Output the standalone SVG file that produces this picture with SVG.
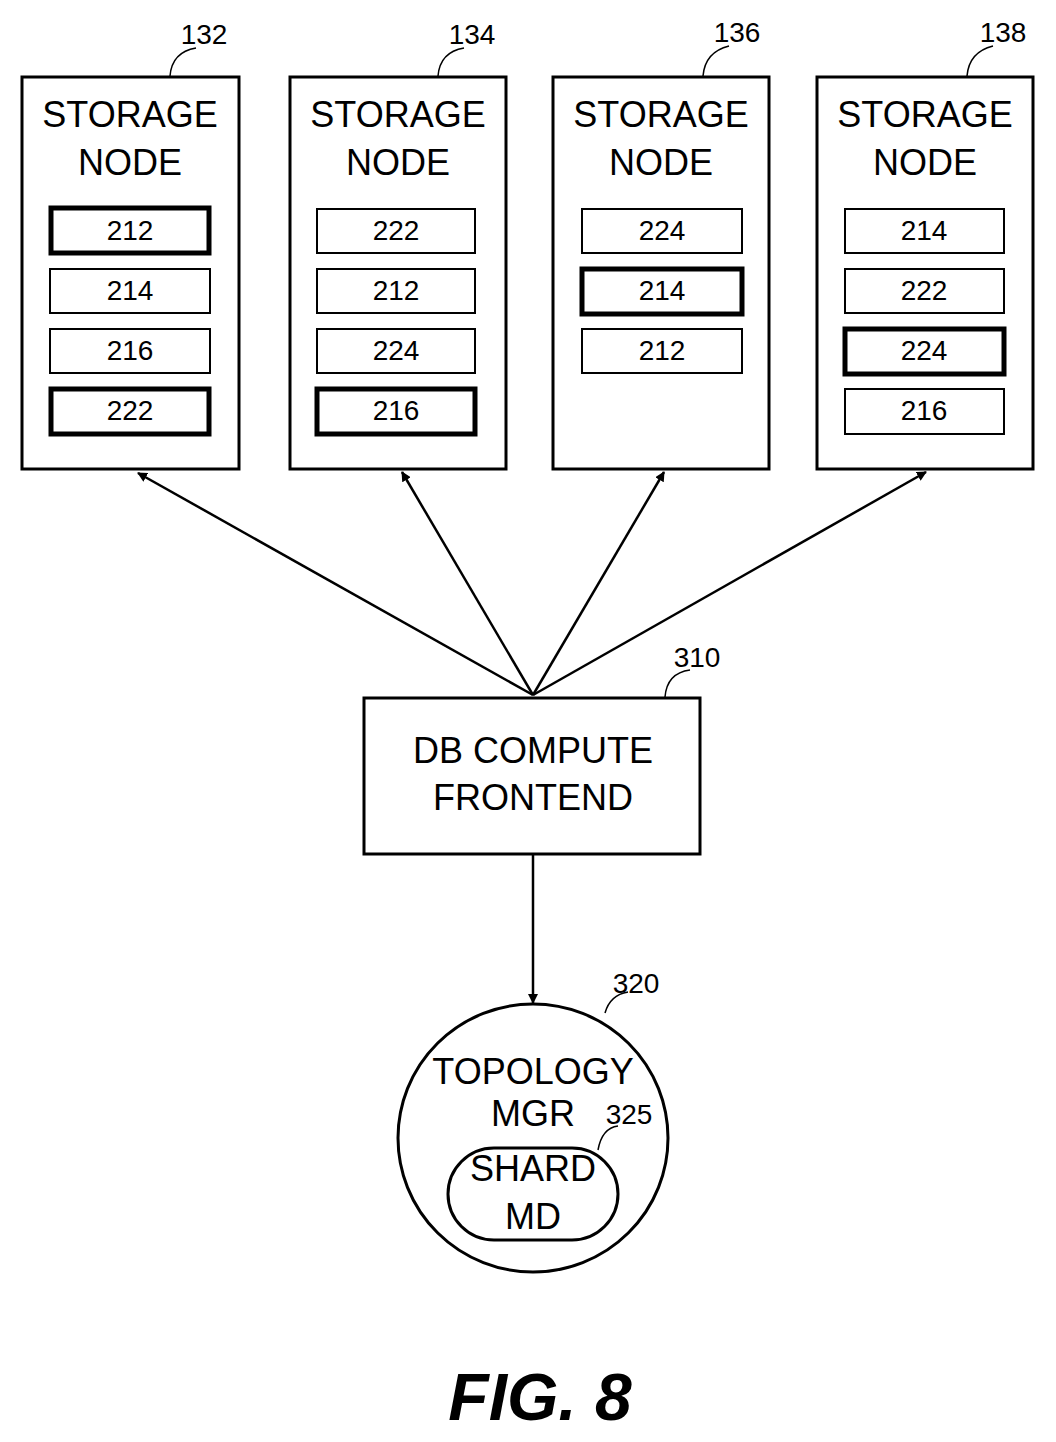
<svg xmlns="http://www.w3.org/2000/svg" width="1056" height="1442" viewBox="0 0 1056 1442">
<style>
.b{fill:#fff;stroke:#000;stroke-width:3}
.s{fill:#fff;stroke:#000;stroke-width:2}
.k{fill:#fff;stroke:#000;stroke-width:5}
.t{font-family:"Liberation Sans",Arial,sans-serif;font-size:36px;text-anchor:middle}
.n{font-family:"Liberation Sans",Arial,sans-serif;font-size:28px;text-anchor:middle}
.l{fill:none;stroke:#000;stroke-width:1.5}
.c{stroke:#000;stroke-width:2.5;fill:none}
</style>
<defs><marker id="a" markerWidth="10" markerHeight="10" refX="9" refY="5" orient="auto" markerUnits="userSpaceOnUse" viewBox="0 0 10 10"><path d="M0,0 L10,5 L0,10 z"/></marker></defs>
<rect width="1056" height="1442" fill="#fff"/>
<g id="n132">
<rect class="b" x="22" y="77" width="217" height="392"/>
<text class="t" x="130" y="127">STORAGE</text><text class="t" x="130" y="175">NODE</text>
<rect class="k" x="51" y="208" width="158" height="45"/><text class="n" x="130" y="240">212</text>
<rect class="s" x="50" y="269" width="160" height="44"/><text class="n" x="130" y="300">214</text>
<rect class="s" x="50" y="329" width="160" height="44"/><text class="n" x="130" y="360">216</text>
<rect class="k" x="51" y="389" width="158" height="45"/><text class="n" x="130" y="420">222</text>
<path class="l" d="M170,76 Q172,52 196,48"/><text class="n" x="204" y="44">132</text>
</g>
<g id="n134">
<rect class="b" x="290" y="77" width="216" height="392"/>
<text class="t" x="398" y="127">STORAGE</text><text class="t" x="398" y="175">NODE</text>
<rect class="s" x="317" y="209" width="158" height="44"/><text class="n" x="396" y="240">222</text>
<rect class="s" x="317" y="269" width="158" height="44"/><text class="n" x="396" y="300">212</text>
<rect class="s" x="317" y="329" width="158" height="44"/><text class="n" x="396" y="360">224</text>
<rect class="k" x="317" y="389" width="158" height="45"/><text class="n" x="396" y="420">216</text>
<path class="l" d="M438,76 Q440,52 464,48"/><text class="n" x="472" y="44">134</text>
</g>
<g id="n136">
<rect class="b" x="553" y="77" width="216" height="392"/>
<text class="t" x="661" y="127">STORAGE</text><text class="t" x="661" y="175">NODE</text>
<rect class="s" x="582" y="209" width="160" height="44"/><text class="n" x="662" y="240">224</text>
<rect class="k" x="582" y="269" width="160" height="45"/><text class="n" x="662" y="300">214</text>
<rect class="s" x="582" y="329" width="160" height="44"/><text class="n" x="662" y="360">212</text>
<path class="l" d="M703,76 Q705,52 729,46"/><text class="n" x="737" y="42">136</text>
</g>
<g id="n138">
<rect class="b" x="817" y="77" width="216" height="392"/>
<text class="t" x="925" y="127">STORAGE</text><text class="t" x="925" y="175">NODE</text>
<rect class="s" x="845" y="209" width="159" height="44"/><text class="n" x="924" y="240">214</text>
<rect class="s" x="845" y="269" width="159" height="44"/><text class="n" x="924" y="300">222</text>
<rect class="k" x="845" y="329" width="159" height="45"/><text class="n" x="924" y="360">224</text>
<rect class="s" x="845" y="389" width="159" height="45"/><text class="n" x="924" y="420">216</text>
<path class="l" d="M967,76 Q969,52 993,46"/><text class="n" x="1003" y="42">138</text>
</g>
<g id="n310">
<rect class="b" x="364" y="698" width="336" height="156"/>
<text class="t" x="533" y="763">DB COMPUTE</text><text class="t" x="533" y="810">FRONTEND</text>
<path class="l" d="M665,697 Q667,673 690,670"/><text class="n" x="697" y="667">310</text>
</g>
<g id="n320">
<ellipse class="b" cx="533" cy="1138" rx="135" ry="134"/>
<text class="t" x="533" y="1084">TOPOLOGY</text><text class="t" x="533" y="1126">MGR</text>
<path class="l" d="M605,1013 Q610,995 628,992"/><text class="n" x="636" y="993">320</text>
</g>
<g id="n325">
<rect class="b" x="448" y="1148" width="170" height="92" rx="46"/>
<text class="t" x="533" y="1181">SHARD</text><text class="t" x="533" y="1229">MD</text>
<path class="l" d="M598,1150 Q602,1128 618,1126"/><text class="n" x="629" y="1124">325</text>
</g>
<g id="connectors">
<line class="c" x1="533" y1="695" x2="138" y2="473" marker-end="url(#a)"/>
<line class="c" x1="533" y1="695" x2="402" y2="472" marker-end="url(#a)"/>
<line class="c" x1="533" y1="695" x2="664" y2="472" marker-end="url(#a)"/>
<line class="c" x1="533" y1="695" x2="926" y2="472" marker-end="url(#a)"/>
<line class="c" x1="533" y1="854" x2="533" y2="1003" marker-end="url(#a)"/>
</g>
<text x="540" y="1420" font-family="Liberation Sans,Arial,sans-serif" font-size="66" font-weight="bold" font-style="italic" text-anchor="middle">FIG.  8</text>
</svg>
